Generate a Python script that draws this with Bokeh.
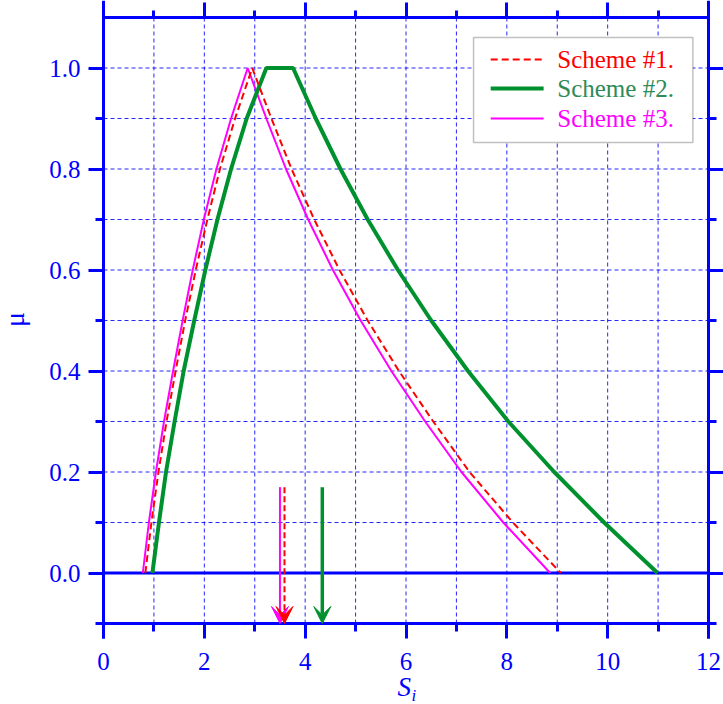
from bokeh.plotting import figure
from bokeh.models import (Range1d, LinearAxis, FixedTicker, PrintfTickFormatter,
                          Arrow, VeeHead, ColumnDataSource, Label, BoxAnnotation)
from bokeh.embed import file_html
from bokeh.resources import INLINE

# ---------------- data ----------------
mu = [0.0, 0.1, 0.2, 0.3, 0.4, 0.5, 0.6, 0.7, 0.8, 0.9, 1.0]
# S_i values of each membership curve, indexed by mu (ascending)
s1_rise = [0.83, 0.95, 1.09, 1.25, 1.43, 1.62, 1.83, 2.06, 2.31, 2.61, 2.95]
s1_fall = [9.07, 8.12, 7.26, 6.54, 5.86, 5.24, 4.68, 4.18, 3.73, 3.33, 2.95]
s2_rise = [0.97, 1.10, 1.24, 1.41, 1.59, 1.80, 2.02, 2.26, 2.53, 2.84, 3.23]
s2_fall = [10.99, 9.93, 8.94, 8.03, 7.23, 6.50, 5.84, 5.24, 4.70, 4.21, 3.76]
s3_rise = [0.78, 0.90, 1.04, 1.20, 1.38, 1.57, 1.77, 1.99, 2.24, 2.53, 2.86]
s3_fall = [8.86, 7.93, 7.10, 6.38, 5.71, 5.10, 4.55, 4.06, 3.62, 3.23, 2.86]

schemes = ["Scheme #1.", "Scheme #2.", "Scheme #3."]
arrow_x = [3.59, 4.34, 3.50]     # defuzzified values (arrows)
arrow_top = 0.17
arrow_bottom = -0.1

x_major = [0, 2, 4, 6, 8, 10, 12]
x_minor = [1, 3, 5, 7, 9, 11]
y_major = [0.0, 0.2, 0.4, 0.6, 0.8, 1.0]
y_minor = [-0.1, 0.1, 0.3, 0.5, 0.7, 0.9]
grid_x = [1, 2, 3, 4, 5, 6, 7, 8, 9, 10, 11]
grid_y = [0.1, 0.2, 0.3, 0.4, 0.5, 0.6, 0.7, 0.8, 0.9, 1.0]

# ---------------- style / layout ----------------
BLUE = "#0000FF"
RED = "#FF0000"
GREEN = "#00912F"
MAGENTA = "#FF00FF"
TEXT_GREEN = "#2E8B57"
FONT = "Liberation Serif"
X_LO, X_HI = 0, 12
Y_LO, Y_HI = -0.1, 1.1
W, H = 723, 704
PX_X = 605 / 12.0          # pixels per x unit
PX_Y = 505.0               # pixels per y unit
X_START = -103 / PX_X
X_END = X_START + W / PX_X
Y_END = Y_HI + 17 / PX_Y
Y_START = Y_END - H / PX_Y

p = figure(frame_width=W, frame_height=H,
           x_range=Range1d(X_START, X_END), y_range=Range1d(Y_START, Y_END),
           x_axis_location=None, y_axis_location=None,
           output_backend="svg", toolbar_location=None,
           min_border_left=0, min_border_right=0, min_border_top=0, min_border_bottom=0)
p.grid.visible = False
p.outline_line_color = None
p.background_fill_color = "white"


def style_axis(ax, font_size="25px"):
    ax.axis_line_color = BLUE
    ax.axis_line_width = 3
    ax.major_tick_line_color = BLUE
    ax.major_tick_line_width = 3
    ax.minor_tick_line_color = BLUE
    ax.minor_tick_line_width = 3
    ax.major_tick_in = 0
    ax.minor_tick_in = 0
    ax.major_tick_out = 15
    ax.minor_tick_out = 8
    ax.major_label_text_color = BLUE
    ax.major_label_text_font = FONT
    ax.major_label_text_font_size = font_size


left = LinearAxis(ticker=FixedTicker(ticks=y_major, minor_ticks=y_minor),
                  formatter=PrintfTickFormatter(format="%.1f"), axis_label="μ",
                  bounds=(-0.13, Y_END), fixed_location=X_LO)
style_axis(left)
left.major_label_standoff = 8
left.axis_label_text_font = FONT
left.axis_label_text_font_size = "28px"
left.axis_label_text_font_style = "normal"
left.axis_label_text_color = BLUE
left.axis_label_standoff = 16
p.add_layout(left, "left")

right = LinearAxis(ticker=FixedTicker(ticks=y_major, minor_ticks=y_minor),
                   bounds=(-0.13, Y_END), fixed_location=X_HI)
style_axis(right, "0px")
right.major_label_standoff = 0
p.add_layout(right, "right")

bottom = LinearAxis(ticker=FixedTicker(ticks=x_major, minor_ticks=x_minor),
                    fixed_location=Y_LO, bounds=(X_LO, X_HI))
style_axis(bottom)
bottom.major_label_standoff = 14
p.add_layout(bottom, "below")

top = LinearAxis(ticker=FixedTicker(ticks=x_major, minor_ticks=x_minor),
                 fixed_location=Y_HI, bounds=(X_LO, X_HI))
style_axis(top, "0px")
top.minor_tick_out = 7
top.major_label_standoff = 0
p.add_layout(top, "above")

# grid lines (dashed blue) between the frame lines
p.segment(x0=grid_x, y0=[Y_LO] * len(grid_x), x1=grid_x, y1=[Y_HI] * len(grid_x),
          line_color=BLUE, line_width=1, line_dash="4 3", line_alpha=0.85)
p.segment(x0=[X_LO] * len(grid_y), y0=grid_y, x1=[X_HI] * len(grid_y), y1=grid_y,
          line_color=BLUE, line_width=1, line_dash="4 3", line_alpha=0.85)

# zero line
p.segment(x0=[X_LO], y0=[0], x1=[X_HI], y1=[0], line_color=BLUE, line_width=3)

# curves
x1 = s1_rise + s1_fall[::-1][1:]
y1 = mu + mu[::-1][1:]
x2 = s2_rise + s2_fall[::-1]
y2 = mu + mu[::-1]
x3 = s3_rise + s3_fall[::-1][1:]
y3 = mu + mu[::-1][1:]

p.line(x3, y3, line_color=MAGENTA, line_width=2)
p.line(x2, y2, line_color=GREEN, line_width=4)
p.line(x1, y1, line_color=RED, line_width=2, line_dash="7 4")

# arrows
colors = [RED, GREEN, MAGENTA]
widths = [2, 3.5, 2]
dashes = ["6 3", "solid", "solid"]
for i in [2, 1, 0]:
    src = ColumnDataSource(dict(x=[arrow_x[i]], y0=[arrow_top], y1=[arrow_bottom]))
    p.add_layout(Arrow(end=VeeHead(size=17, fill_color=colors[i], line_color=colors[i], line_width=1),
                       x_start="x", y_start="y0", x_end="x", y_end="y1", source=src,
                       line_color=colors[i], line_width=widths[i], line_dash=dashes[i]))

# legend (manual, coloured texts)
p.add_layout(BoxAnnotation(left=7.34, right=11.69, top=1.0604, bottom=0.8525,
                           fill_color="white", fill_alpha=1.0,
                           line_color="#333333", line_width=1.5))
leg_y = [1.0168, 0.9594, 0.900]
text_colors = [RED, TEXT_GREEN, MAGENTA]
for i in range(3):
    p.segment(x0=[7.68], y0=[leg_y[i]], x1=[8.73], y1=[leg_y[i]], line_color=colors[i],
              line_width=[2, 4, 2][i], line_dash=["7 4", "solid", "solid"][i], level="overlay")
    p.add_layout(Label(x=9.0, y=leg_y[i], text=schemes[i], text_color=text_colors[i],
                       text_font=FONT, text_font_size="25px", text_baseline="middle",
                       level="overlay"))

# x axis label S_i
p.add_layout(Label(x=5.83, y=-0.2267, text="S", text_color=BLUE, text_font=FONT,
                   text_font_size="27px", text_font_style="italic", text_baseline="middle"))
p.add_layout(Label(x=6.11, y=-0.2426, text="i", text_color=BLUE, text_font=FONT,
                   text_font_size="17px", text_font_style="italic", text_baseline="middle"))

open("out.html", "w").write(file_html(p, INLINE))
